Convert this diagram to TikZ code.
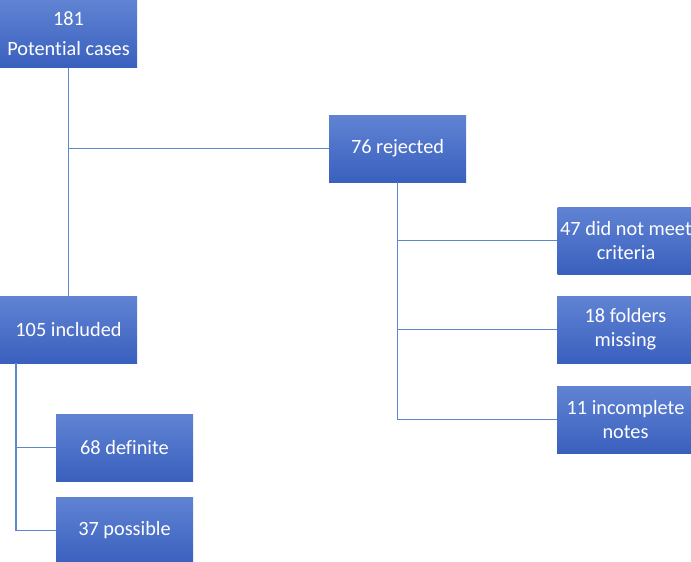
\documentclass[tikz,border=0pt]{standalone}
\usepackage{fontspec}
\setmainfont{Carlito}[Ligatures=NoCommon]
\usepackage{xcolor}
\usetikzlibrary{calc,positioning}

\definecolor{boxtop}{RGB}{96,131,211}
\definecolor{boxbot}{RGB}{58,96,190}
\definecolor{linkblue}{RGB}{95,135,205}

\tikzset{
  flowbox/.style={rectangle, top color=boxtop, bottom color=boxbot, draw=none,
    minimum width=137pt, minimum height=67pt, inner sep=0pt, align=center,
    text=white, font=\fontsize{20.3}{24}\selectfont},
  link/.style={draw=linkblue, line width=1.5pt}
}

\begin{document}
\begin{tikzpicture}[x=1pt,y=-1pt]
\clip (0,0) rectangle (691,562);
\node[flowbox] (pot) at (68.5,34) {181\\[6pt]Potential cases};
\node[flowbox] (rej) at (397.5,148.5) {76 rejected};
\node[flowbox] (crit) at (626,240.5) {47 did not meet\\criteria};
\node[flowbox] (fold) at (625.5,329.5) {18 folders\\missing};
\node[flowbox] (notes) at (625.5,419.5) {11 incomplete\\notes};
\node[flowbox] (inc) at (68.5,329.5) {105 included};
\node[flowbox] (def) at (124.5,447.5) {68 definite};
\node[flowbox] (poss) at (124.5,530.5) {37 possible};
\coordinate (incleft) at ($(inc.south west)+(16,0)$);
% main trunk
\draw[link] (pot.south) -- (inc.north);
\draw[link] (pot.south |- rej.west) -- (rej.west);
% rejected branch
\draw[link] (rej.south) |- (crit.west);
\draw[link] (rej.south) |- (fold.west);
\draw[link] (rej.south) |- (notes.west);
% included branch
\draw[link] (incleft) |- (def.west);
\draw[link] (incleft) |- (poss.west);
\end{tikzpicture}
\end{document}
